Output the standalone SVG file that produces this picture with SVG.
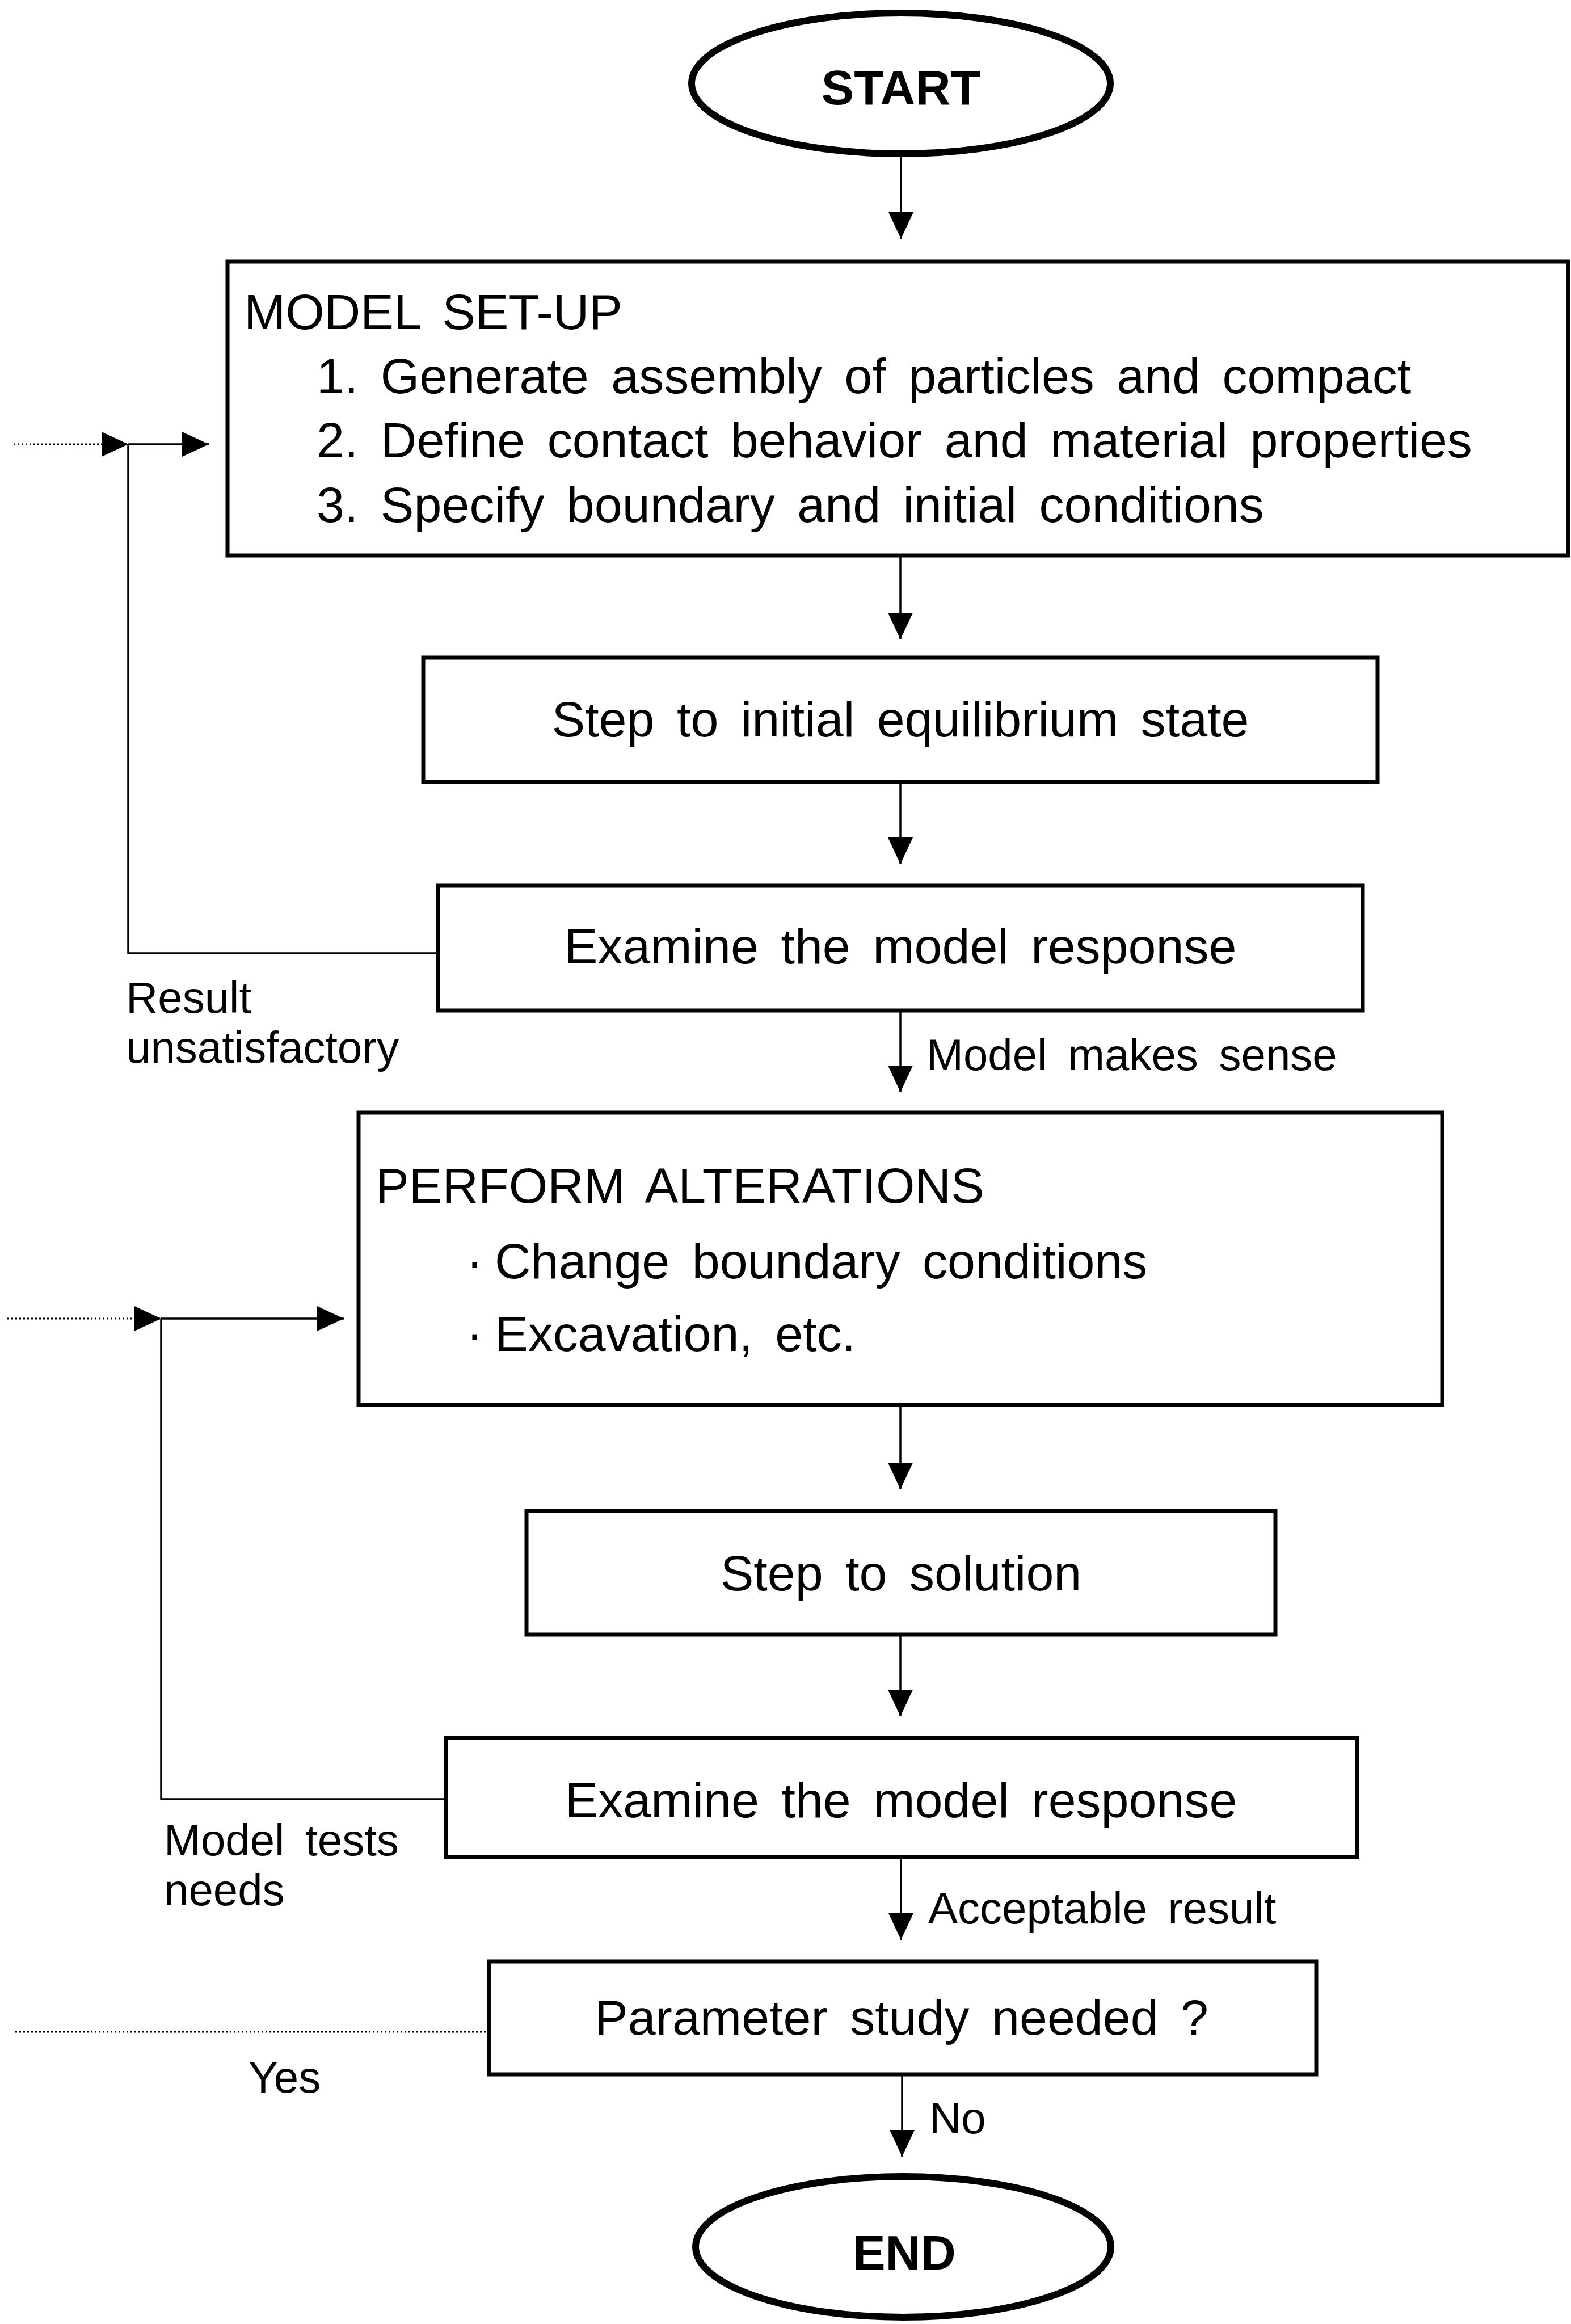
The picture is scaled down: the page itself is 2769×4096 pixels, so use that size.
<svg xmlns="http://www.w3.org/2000/svg" width="2769" height="4096" viewBox="0 0 2769 4096">
  <defs>
    <style>
      .box { fill: #fff; stroke: #000; stroke-width: 7; }
      .term { fill: #fff; stroke: #000; stroke-width: 12; }
      .conn { fill: none; stroke: #000; stroke-width: 3.5; }
      .dots { fill: none; stroke: #000; stroke-width: 3; stroke-dasharray: 3 4; }
      text { font-family: "Liberation Sans", Arial, sans-serif; fill: #000; }
      .t { font-size: 88px; word-spacing: 15px; }
      .c { text-anchor: middle; }
      .lbl { font-size: 78px; word-spacing: 15px; }
      .big { font-size: 86px; font-weight: bold; text-anchor: middle; }
    </style>
    <marker id="ah" markerUnits="userSpaceOnUse" markerWidth="48" markerHeight="46" refX="47" refY="22" orient="auto">
      <path d="M0,0 L47,22 L0,44 Z" fill="#000"/>
    </marker>
  </defs>
  <rect width="2769" height="4096" fill="#fff"/>

  <!-- connectors -->
  <g id="connectors">
    <path class="conn" d="M1588,272 V421" marker-end="url(#ah)"/>
    <path class="conn" d="M1587,980 V1127" marker-end="url(#ah)"/>
    <path class="conn" d="M1587,1379 V1523" marker-end="url(#ah)"/>
    <path class="conn" d="M1587,1782 V1925" marker-end="url(#ah)"/>
    <path class="conn" d="M1587,2477 V2625" marker-end="url(#ah)"/>
    <path class="conn" d="M1587,2881 V3025" marker-end="url(#ah)"/>
    <path class="conn" d="M1588,3273 V3419" marker-end="url(#ah)"/>
    <path class="conn" d="M1590,3656 V3801" marker-end="url(#ah)"/>

    <!-- loop back to model set-up -->
    <path class="conn" d="M771,1680 H226 V783"/>
    <path class="dots" d="M24,783 H226" marker-end="url(#ah)"/>
    <path class="conn" d="M226,783 H368" marker-end="url(#ah)"/>

    <!-- loop back to alterations -->
    <path class="conn" d="M784,3171 H284 V2324"/>
    <path class="dots" d="M13,2324 H284" marker-end="url(#ah)"/>
    <path class="conn" d="M284,2324 H606" marker-end="url(#ah)"/>

    <!-- parameter study: yes branch -->
    <path class="dots" d="M27,3581 H861"/>
  </g>

  <g id="start">
    <ellipse class="term" cx="1588" cy="147" rx="369" ry="124"/>
    <text class="big" x="1588" y="184">START</text>
  </g>

  <g id="model-setup">
    <rect class="box" x="401" y="461" width="2363" height="518"/>
    <text class="t" x="430" y="580">MODEL SET-UP</text>
    <text class="t" x="558" y="693">1. Generate assembly of particles and compact</text>
    <text class="t" x="558" y="806">2. Define contact behavior and material properties</text>
    <text class="t" x="558" y="920">3. Specify boundary and initial conditions</text>
  </g>

  <g id="equilibrium">
    <rect class="box" x="746" y="1159" width="1682" height="219"/>
    <text class="t c" x="1587" y="1298">Step to initial equilibrium state</text>
  </g>

  <g id="examine-1">
    <rect class="box" x="772" y="1561" width="1630" height="220"/>
    <text class="t c" x="1587" y="1698">Examine the model response</text>
  </g>

  <text id="label-unsatisfactory" class="lbl" x="222" y="1785">Result<tspan x="222" dy="88">unsatisfactory</tspan></text>
  <text id="label-sense" class="lbl" x="1633" y="1886">Model makes sense</text>

  <g id="alterations">
    <rect class="box" x="632" y="1961" width="1910" height="515"/>
    <text class="t" x="662" y="2120">PERFORM ALTERATIONS</text>
    <text class="t" x="822" y="2253">·</text>
    <text class="t" x="872" y="2253">Change boundary conditions</text>
    <text class="t" x="822" y="2381">·</text>
    <text class="t" x="872" y="2381">Excavation, etc.</text>
  </g>

  <g id="solution">
    <rect class="box" x="928" y="2663" width="1320" height="218"/>
    <text class="t c" x="1588" y="2803">Step to solution</text>
  </g>

  <g id="examine-2">
    <rect class="box" x="786" y="3063" width="1606" height="210"/>
    <text class="t c" x="1588" y="3203">Examine the model response</text>
  </g>

  <text id="label-tests" class="lbl" x="289" y="3270">Model tests<tspan x="289" dy="88">needs</tspan></text>
  <text id="label-acceptable" class="lbl" x="1636" y="3390">Acceptable result</text>

  <g id="parameter-study">
    <rect class="box" x="862" y="3457" width="1458" height="199"/>
    <text class="t c" x="1589" y="3586">Parameter study needed ?</text>
  </g>

  <text id="label-yes" class="lbl" x="438" y="3688">Yes</text>
  <text id="label-no" class="lbl" x="1638" y="3760">No</text>

  <g id="end">
    <ellipse class="term" cx="1592" cy="3960" rx="366" ry="124"/>
    <text class="big" x="1594" y="4000">END</text>
  </g>
</svg>
